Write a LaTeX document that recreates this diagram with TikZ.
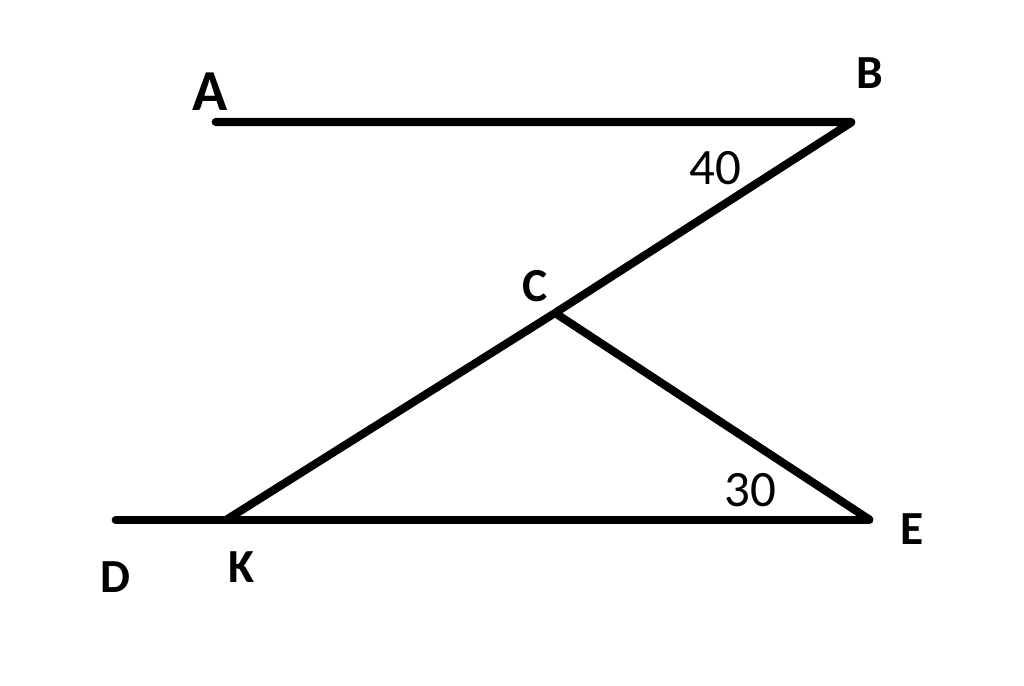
\documentclass[tikz,border=0pt]{standalone}
\usepackage{fontspec}
\setmainfont{Carlito}
\tikzset{%
    pt/.style={inner sep=0pt,minimum size=0pt}
}

\begin{document}
\begin{tikzpicture}[
        x=0.01cm, y=-0.01cm,
        pt/.style={inner sep=0pt,minimum size=0pt},
        edge/.style={line width=2.3pt,line cap=round,line join=round},
        lbl/.style={font=\fontsize{13.5}{15}\selectfont\bfseries,inner sep=0pt},
        ang/.style={font=\fontsize{14.5}{16}\selectfont,inner sep=0pt}
        ]
        \useasboundingbox (0,0) rectangle (1024,686);
        \node[pt] (A) at (215,122){};
        \node[pt] (B) at (852,122){};
        \node[pt] (C) at (555,313){};
        \node[pt] (D) at (115,520){};
        \node[pt] (K) at (226,520){};
        \node[pt] (E) at (870,520){};

        \node[lbl, font=\fontsize{16.5}{18}\selectfont\bfseries] (lA) at (210,92){A};
        \node[lbl] (lB) at (870,73){B};
        \node[lbl] (lC) at (535,286){C};
        \node[lbl] (lD) at (115,577){D};
        \node[lbl] (lK) at (241,567){K};
        \node[lbl] (lE) at (912,529){E};
        \node[ang] (a40) at (715,168){40};
        \node[ang] (a30) at (750,490){30};

        \draw[edge] (A) -- (B) -- (C) -- (K);
        \draw[edge] (C) -- (E);
        \draw[edge] (D) -- (E);
    \end{tikzpicture}
\end{document}
